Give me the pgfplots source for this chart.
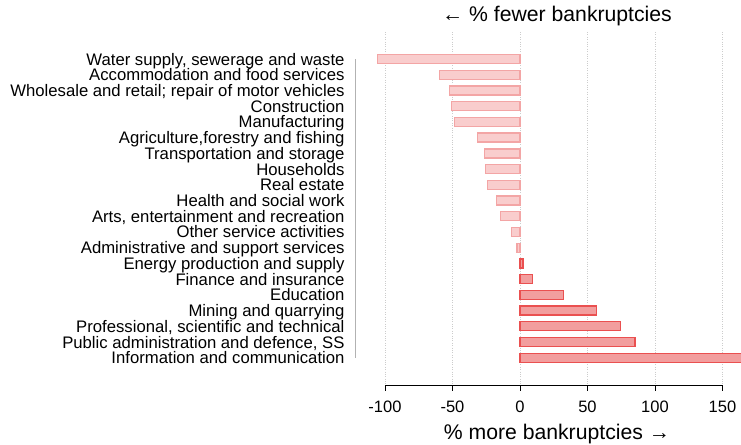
\documentclass[border=0pt]{standalone}
\usepackage{pgfplots}
\pgfplotsset{compat=1.18}
\usepackage{fontspec}
\setmainfont{Liberation Sans}
\definecolor{negfill}{RGB}{249,205,205}
\definecolor{negline}{RGB}{243,165,165}
\definecolor{posfill}{RGB}{242,158,158}
\definecolor{posline}{RGB}{234,80,80}
\begin{document}
\begin{tikzpicture}
\begin{axis}[
  scale only axis,
  width=385.3bp, height=353.7bp,
  xmin=-121.7, xmax=163.7,
  ymin=-1.72, ymax=20.78,
  y dir=reverse,
  xbar, bar shift=0pt, bar width=9bp,
  axis line style={draw=none},
  xtick={-100,-50,0,50,100,150},
  xticklabels={-100,-50,0,50,100,150},
  tick pos=bottom,
  xtick align=outside,
  major x tick style={black, line width=0.8bp},
  major tick length=5bp,
  ytick={0,...,19},
  major y tick style={draw=none},
  yticklabels={{Water supply, sewerage and waste},{Accommodation and food services},{Wholesale and retail; repair of motor vehicles},{Construction},{Manufacturing},{Agriculture,forestry and fishing},{Transportation and storage},{Households},{Real estate},{Health and social work},{Arts, entertainment and recreation},{Other service activities},{Administrative and support services},{Energy production and supply},{Finance and insurance},{Education},{Mining and quarrying},{Professional, scientific and technical},{Public administration and defence, SS},{Information and communication}},
  yticklabel style={font=\fontsize{16.7bp}{16.7bp}\selectfont, anchor=east, text height=12bp, text depth=0pt, inner sep=0pt, xshift=-6bp},
  xticklabel style={font=\fontsize{16.5bp}{16.5bp}\selectfont, anchor=base, inner sep=0pt, yshift=-22bp},
  /pgf/number format/assume math mode=true,
  xmajorgrids,
  grid style={gray!40, dotted, line width=0.7bp},
]
\addplot[fill=negfill, draw=negline, line width=1.3bp] coordinates {
(-105.4,0) (-59.8,1) (-52.4,2) (-50.9,3) (-48.4,4) (-31.6,5) (-26.2,6) (-25.7,7) (-24.2,8) (-17.5,9) (-14.3,10) (-6.4,11) (-2.2,12)
};
\addplot[fill=posfill, draw=posline, line width=1.3bp] coordinates {
(2.2,13) (9.1,14) (32.3,15) (56.8,16) (74.3,17) (85.2,18) (170,19)
};
\coordinate (xl) at (axis cs:-100,20.78);
\coordinate (xr) at (axis cs:150,20.78);
\coordinate (yt) at (axis cs:-121.7,0);
\coordinate (yb) at (axis cs:-121.7,19);
\coordinate (tt) at (axis cs:27.4,-1.72);
\coordinate (bt) at (axis cs:27.4,20.78);
\coordinate (TL) at (axis cs:-121.7,-1.72);
\coordinate (BR) at (axis cs:163.7,20.78);
\end{axis}
\draw[black, line width=1bp] (xl) -- (xr);
\draw[black!30, line width=1.3bp] (yt) -- (yb);
\node[anchor=base, inner sep=0pt, font=\fontsize{21.2bp}{21.2bp}\selectfont] at ([yshift=10bp]tt) {← \% fewer bankruptcies};
\node[anchor=base, inner sep=0pt, font=\fontsize{21.2bp}{21.2bp}\selectfont] at ([yshift=-54bp]bt) {\% more bankruptcies →};
\pgfresetboundingbox
\path[use as bounding box] ([xshift=-355.7bp,yshift=32bp]TL) rectangle ([yshift=-59.3bp]BR);
\end{tikzpicture}
\end{document}
